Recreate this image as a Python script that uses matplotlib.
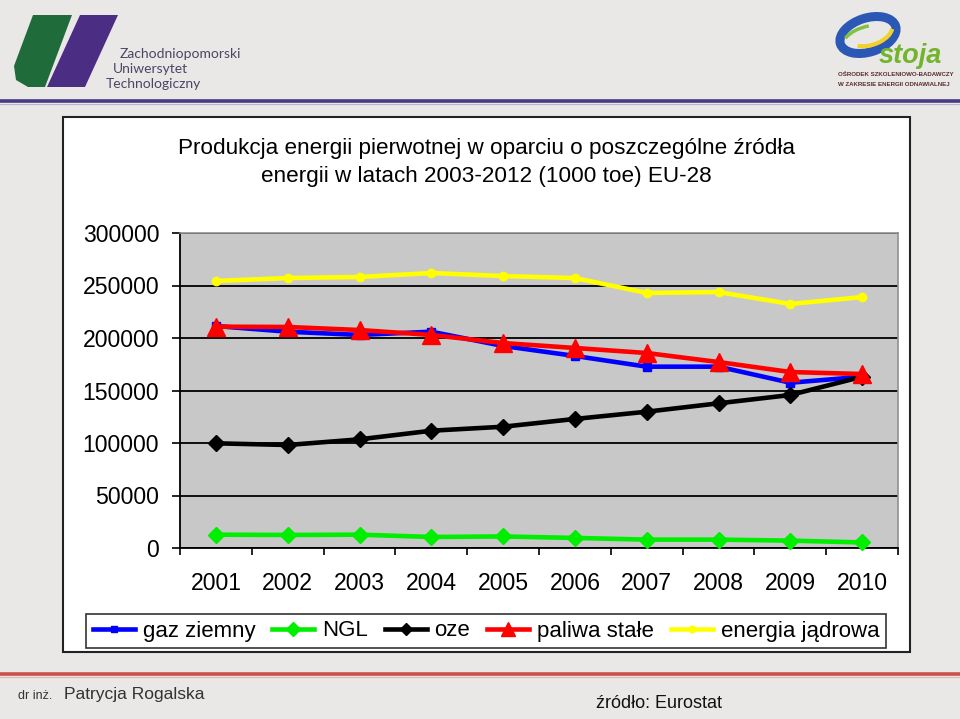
import matplotlib
matplotlib.use("Agg")
import matplotlib.pyplot as plt
import numpy as np
from matplotlib.patches import Rectangle, Polygon, Ellipse, Arc
from matplotlib.lines import Line2D

plt.rcParams["font.family"] = ["Liberation Sans", "DejaVu Sans"]

# data (1000 toe)
years = ["2001", "2002", "2003", "2004", "2005", "2006", "2007", "2008", "2009", "2010"]
gaz_ziemny = [211400, 206000, 202900, 206000, 192400, 182900, 172700, 172700, 157400, 163100]
ngl = [12700, 12400, 12700, 10500, 11000, 9600, 8000, 8000, 7000, 5300]
oze = [99700, 98100, 103500, 111700, 115500, 122900, 129800, 137800, 145700, 163100]
paliwa_stale = [210800, 210500, 207600, 202900, 195200, 190500, 185700, 177100, 167600, 165700]
energia_jadrowa = [254300, 257100, 258100, 261900, 259000, 257100, 242900, 243800, 232400, 239000]
yticks = [0, 50000, 100000, 150000, 200000, 250000, 300000]

title = "Produkcja energii pierwotnej w oparciu o poszczególne źródła\nenergii w latach 2003-2012 (1000 toe) EU-28"

fig = plt.figure(figsize=(9.6, 7.19), dpi=100)
fig.patch.set_facecolor("#e9e8e6")

# slide decoration layer in pixel coords
bg = fig.add_axes([0, 0, 1, 1], zorder=0)
bg.set_xlim(0, 960)
bg.set_ylim(719, 0)
bg.axis("off")

# header line
bg.plot([0, 960], [101, 101], color="#4a3a86", lw=2.6, solid_capstyle="butt")
bg.plot([0, 960], [104, 104], color="#b9b3d0", lw=0.8)
# footer line
bg.plot([0, 960], [674, 674], color="#c9504c", lw=2.6, solid_capstyle="butt")
bg.plot([0, 960], [677, 677], color="#e8b2ae", lw=0.8)

# ZUT logo
green = Polygon([(33, 15), (72, 15), (45, 87), (28, 87), (16, 80), (14, 66)],
                closed=True, fc="#1f6b3a", ec="none")
purple = Polygon([(80, 15), (118, 15), (85, 87), (47, 87)], closed=True, fc="#4b2e83", ec="none")
bg.add_patch(green)
bg.add_patch(purple)
zut = "#4d4466"
bg.text(120, 54, "Zachodniopomorski", fontsize=10, color=zut, family="Lato", va="center")
bg.text(113, 69, "Uniwersytet", fontsize=10, color=zut, family="Lato", va="center")
bg.text(106, 84, "Technologiczny", fontsize=10, color=zut, family="Lato", va="center")

# Ostoja logo
bg.add_patch(Ellipse((868, 35), 58, 34, angle=-18, fill=False, ec="#2b58b5", lw=6.5))
bg.add_patch(Arc((870, 32), 46, 26, angle=-18, theta1=10, theta2=150, ec="#f2d22a", lw=3))
bg.add_patch(Arc((866, 39), 48, 24, angle=-18, theta1=200, theta2=300, ec="#7fc241", lw=2.5))
bg.text(879, 56, "stoja", fontsize=19.5, fontweight="bold", fontstyle="italic",
        color="#72b52c", va="center")
bg.text(838, 75, "OŚRODEK SZKOLENIOWO-BADAWCZY", fontsize=4.4, fontweight="bold",
        color="#5a2d2d", va="center")
bg.text(838, 85, "W ZAKRESIE ENERGII ODNAWIALNEJ", fontsize=4.4, fontweight="bold",
        color="#5a2d2d", va="center")

# footer texts
bg.text(18, 696, "dr inż.", fontsize=9, color="#333333", va="center")
bg.text(64, 694, "Patrycja Rogalska", fontsize=12.5, color="#333333", va="center")
bg.text(596, 704, "źródło: Eurostat", fontsize=13, color="#111111", va="center")

# white chart box
bg.add_patch(Rectangle((63, 117), 847, 535, fc="white", ec="#222222", lw=1.5))
bg.text(486, 162.5, title, fontsize=16.2, ha="center", va="center", linespacing=1.45)

# chart
ax = fig.add_axes([180 / 960, 1 - 548 / 719, 718 / 960, 315 / 719], zorder=1)
ax.set_facecolor("#c8c8c8")
x = np.arange(len(years))

series = [
    (gaz_ziemny, "gaz ziemny", "#0000ff", "s", 6),
    (ngl, "NGL", "#00ee00", "D", 8.5),
    (oze, "oze", "#000000", "D", 8),
    (paliwa_stale, "paliwa stałe", "#ff0000", "^", 13),
    (energia_jadrowa, "energia jądrowa", "#ffff00", "o", 6),
]
handles = []
for vals, name, col, mk, ms in series:
    ax.plot(x, vals, color=col, marker=mk, markersize=ms, linewidth=3.3, zorder=3,
            clip_on=False)
    handles.append(Line2D([], [], color=col, marker=mk, markersize=ms * 0.8, linewidth=3.3,
                          label=name))

ax.set_xlim(-0.5, len(years) - 0.5)
ax.set_ylim(0, 300000)
ax.set_yticks(yticks)
ax.set_yticklabels([str(v) for v in yticks], fontsize=16.6)
ax.tick_params(axis="y", length=6, width=1.2, pad=9, color="black")
ax.set_xticks(x)
ax.set_xticklabels(years, fontsize=16.6)
ax.tick_params(axis="x", which="major", length=0, pad=17)
ax.set_xticks(np.arange(len(years) + 1) - 0.5, minor=True)
ax.tick_params(axis="x", which="minor", length=5, width=1.2, direction="out")
ax.yaxis.grid(True, color="black", linewidth=1.3)
ax.set_axisbelow(True)
for side in ["top", "right"]:
    ax.spines[side].set_color("#909090")
    ax.spines[side].set_linewidth(1.2)
for side in ["left", "bottom"]:
    ax.spines[side].set_color("black")
    ax.spines[side].set_linewidth(1.3)

leg = fig.legend(handles=handles, loc="center", bbox_to_anchor=(486 / 960, 1 - 631 / 719),
                 ncol=5, fontsize=16, frameon=True, fancybox=False, handlelength=1.9,
                 handletextpad=0.35, columnspacing=0.75, borderpad=0.3)
leg.get_frame().set_edgecolor("black")
leg.get_frame().set_linewidth(1.2)

fig.savefig("out.png", dpi=100, facecolor=fig.get_facecolor())
